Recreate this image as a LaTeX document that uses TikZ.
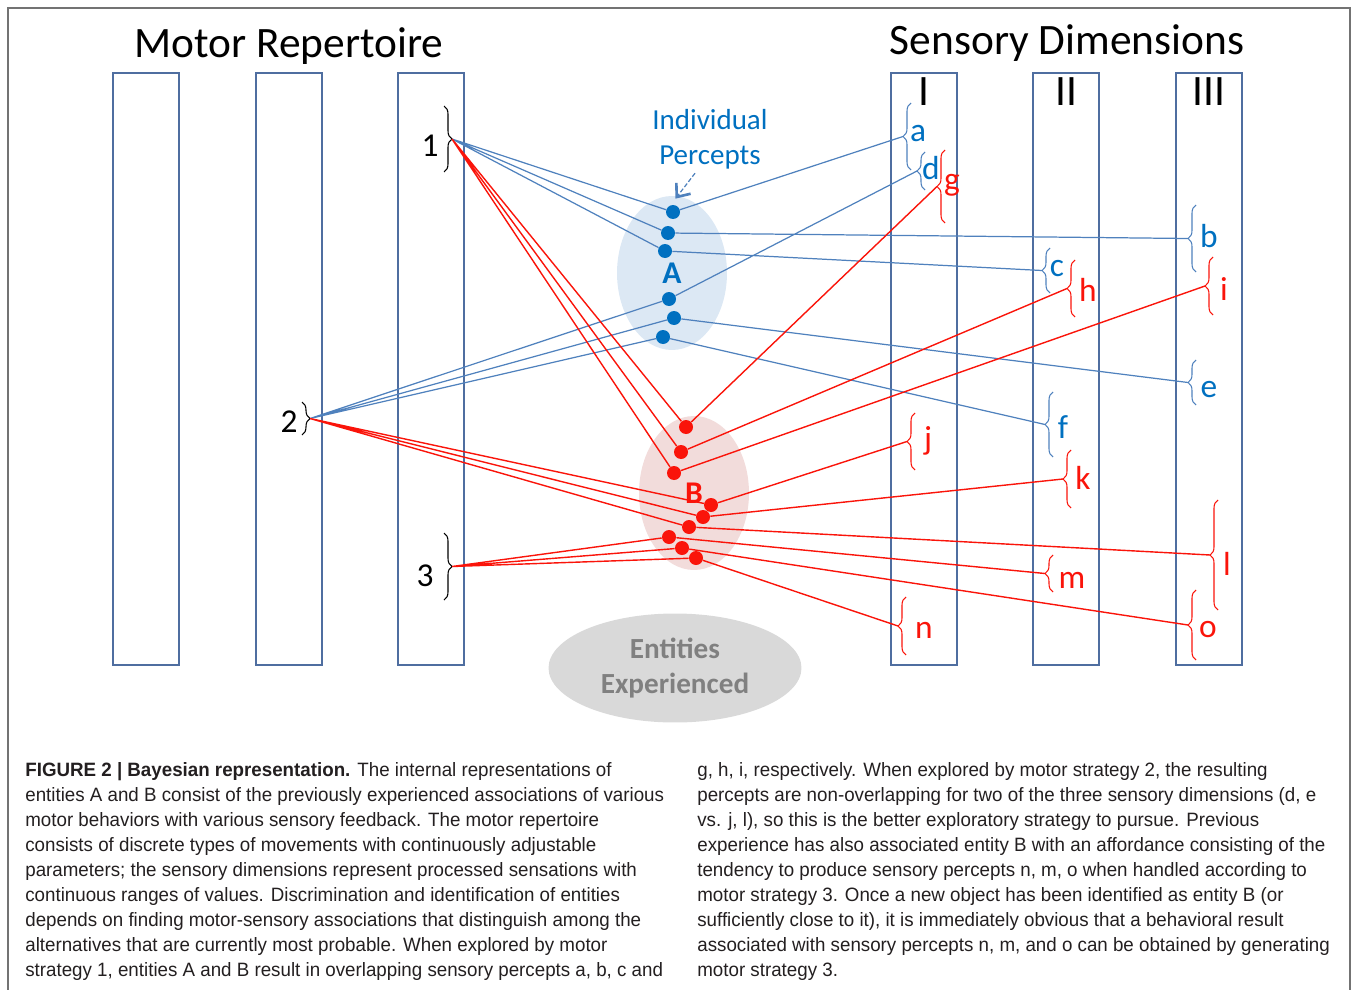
\documentclass[tikz,border=0pt]{standalone}
\usepackage{fontspec}
\setmainfont{Carlito}
\newfontfamily\capfont{Liberation Sans}[FakeStretch=0.97]
\usepackage{tikz}
\usetikzlibrary{positioning, arrows.meta, shapes.geometric, decorations.pathreplacing}
\definecolor{barblue}{RGB}{79,110,160}
\definecolor{lineblue}{RGB}{79,129,189}
\definecolor{dotblue}{RGB}{0,112,192}
\definecolor{linered}{RGB}{250,20,10}
\definecolor{fillA}{RGB}{220,232,244}
\definecolor{fillB}{RGB}{242,220,219}
\definecolor{entgray}{RGB}{217,217,217}
\definecolor{enttext}{RGB}{128,128,128}
\definecolor{captext}{RGB}{35,31,32}
\tikzset{bar/.style={draw=barblue, line width=1pt, minimum width=1.32cm, minimum height=11.84cm, inner sep=0pt},
	headline/.style={inner sep=0pt, font=\fontsize{24.7}{30}\selectfont},
	mnum/.style={inner sep=0pt, font=\fontsize{19}{22}\selectfont},
	plabel/.style={inner sep=0pt, font=\fontsize{19}{22}\selectfont},
	blueline/.style={lineblue, line width=0.7pt},
	redline/.style={linered, line width=0.8pt},
	adot/.style={circle, fill=dotblue, minimum size=0.28cm, inner sep=0pt},
	bdot/.style={circle, fill=linered, minimum size=0.28cm, inner sep=0pt},
	setcloud/.style={ellipse, minimum width=2.2cm, minimum height=3.08cm, inner sep=0pt, font=\bfseries\fontsize{18}{20}\selectfont},
	pbrace/.style={decorate, decoration={brace, amplitude=0.16cm}, line width=0.6pt, #1},
	captext/.style={anchor=base west, inner sep=0pt, align=left, text=captext, font=\capfont\fontsize{11}{14.17}\selectfont}}

\begin{document}
\begin{tikzpicture}[x=0.02cm, y=-0.02cm]
	\useasboundingbox (0,0) rectangle (1355,990);
	\draw[black!55, line width=1pt] (8,990) -- (8,8) -- (1350,8) -- (1350,990);

	% motor and sensory bars
	\node[bar] (m1) at (146,369) {};
	\node[bar] (m2) at (289,369) {};
	\node[bar] (m3) at (431,369) {};
	\node[bar] (s1) at (924,369) {};
	\node[bar] (s2) at (1066,369) {};
	\node[bar] (s3) at (1209,369) {};
	\node[headline] (motor) at (289,46) {Motor Repertoire};
	\node[headline] (sensory) at (1067,43) {Sensory Dimensions};
	\node[headline, below=0.1cm of s1.north] (dim1) {I};
	\node[headline, below=0.1cm of s2.north] (dim2) {II};
	\node[headline, below=0.1cm of s3.north] (dim3) {III};

	% entities
	\node[setcloud, fill=fillA, text=dotblue] (entA) at (672,273) {A};
	\node[setcloud, fill=fillB, text=linered] (entB) at (694,493) {B};
	\node[ellipse, fill=entgray, minimum width=5.06cm, minimum height=2.18cm, inner sep=0pt, align=center, text=enttext,
		font=\bfseries\fontsize{16.6}{19.9}\selectfont] (seen) at (675,668) {Entities\\Experienced};
	\node[align=center, inner sep=0pt, text=dotblue, font=\fontsize{16.5}{19.9}\selectfont] (indiv) at (710,139) {Individual\\Percepts};

	\node[adot] (a1) at (673,212) {};
	\node[adot] (a2) at (668,233) {};
	\node[adot] (a3) at (665,251) {};
	\node[adot] (a4) at (669,299) {};
	\node[adot] (a5) at (674,318) {};
	\node[adot] (a6) at (663,337) {};
	\node[bdot] (b1) at (686,427) {};
	\node[bdot] (b2) at (681,452) {};
	\node[bdot] (b3) at (674,473) {};
	\node[bdot] (b4) at (711,505) {};
	\node[bdot] (b5) at (703,517) {};
	\node[bdot] (b6) at (689,527) {};
	\node[bdot] (b7) at (669,537) {};
	\node[bdot] (b8) at (682,548) {};
	\node[bdot] (b9) at (696,558) {};
	\draw[lineblue, dash pattern=on 2.5pt off 1.2pt, line width=0.7pt, -{Straight Barb[length=2.2mm, width=3.6mm, line width=1.5pt]}]
		([xshift=-0.3cm, yshift=-0.08cm]indiv.south) -- ([xshift=0.05cm, yshift=0.12cm]a1.north);

	% motor strategies
	\node[mnum] (n1) at (430,146) {1};
	\node[mnum] (n2) at (289,422) {2};
	\node[mnum] (n3) at (425,576) {3};
	\draw[pbrace=black] (444,106) -- (444,172) coordinate[midway, xshift=0.16cm] (t1);
	\draw[pbrace=black] (302,402) -- (302,435) coordinate[midway, xshift=0.16cm] (t2);
	\draw[pbrace=black] (444,533) -- (444,600) coordinate[midway, xshift=0.16cm] (t3);

	% sensory percepts
	\draw[pbrace=lineblue] (911,170) -- (911,103) coordinate[midway, xshift=-0.16cm] (pa);
	\draw[pbrace=lineblue] (925,190) -- (925,152) coordinate[midway, xshift=-0.16cm] (pd);
	\draw[pbrace=linered] (945,223) -- (945,150) coordinate[midway, xshift=-0.16cm] (pg);
	\draw[pbrace=lineblue] (1196,272) -- (1196,205) coordinate[midway, xshift=-0.16cm] (pb);
	\draw[pbrace=lineblue] (1050,293) -- (1050,248) coordinate[midway, xshift=-0.16cm] (pc);
	\draw[pbrace=linered] (1075,317) -- (1075,260) coordinate[midway, xshift=-0.16cm] (ph);
	\draw[pbrace=linered] (1213,315) -- (1213,257) coordinate[midway, xshift=-0.16cm] (pi);
	\draw[pbrace=lineblue] (1196,405) -- (1196,360) coordinate[midway, xshift=-0.16cm] (pe);
	\draw[pbrace=lineblue] (1053,457) -- (1053,392) coordinate[midway, xshift=-0.16cm] (pf);
	\draw[pbrace=linered] (915,470) -- (915,413) coordinate[midway, xshift=-0.16cm] (pj);
	\draw[pbrace=linered] (1071,508) -- (1071,450) coordinate[midway, xshift=-0.16cm] (pk);
	\draw[pbrace=linered] (1218,610) -- (1218,500) coordinate[midway, xshift=-0.16cm] (pl);
	\draw[pbrace=linered] (1053,592) -- (1053,555) coordinate[midway, xshift=-0.16cm] (pm);
	\draw[pbrace=linered] (906,655) -- (906,597) coordinate[midway, xshift=-0.16cm] (pn);
	\draw[pbrace=linered] (1196,660) -- (1196,590) coordinate[midway, xshift=-0.16cm] (po);
	\node[plabel, text=dotblue] (la) at (918,134) {a};
	\node[plabel, text=dotblue] (ld) at (931,168) {d};
	\node[plabel, text=linered] (lg) at (952,185) {g};
	\node[plabel, text=dotblue] (lb) at (1209,236) {b};
	\node[plabel, text=dotblue] (lc) at (1057,269) {c};
	\node[plabel, text=linered] (lh) at (1088,290) {h};
	\node[plabel, text=linered] (li) at (1224,289) {i};
	\node[plabel, text=dotblue] (le) at (1209,390) {e};
	\node[plabel, text=dotblue] (lf) at (1063,427) {f};
	\node[plabel, text=linered] (lj) at (928,441) {j};
	\node[plabel, text=linered] (lk) at (1083,478) {k};
	\node[plabel, text=linered] (ll) at (1227,564) {l};
	\node[plabel, text=linered] (lm) at (1072,580) {m};
	\node[plabel, text=linered] (ln) at (924,630) {n};
	\node[plabel, text=linered] (lo) at (1208,630) {o};

	\draw[blueline]
		(t1) -- (a1) (t1) -- (a2) (t1) -- (a3)
		(t2) -- (a4) (t2) -- (a5) (t2) -- (a6)
		(a1) -- (pa) (a2) -- (pb) (a3) -- (pc)
		(a4) -- (pd) (a5) -- (pe) (a6) -- (pf);
	\draw[redline]
		(t1) -- (b1) (t1) -- (b2) (t1) -- (b3)
		(t2) -- (b4) (t2) -- (b5) (t2) -- (b6)
		(t3) -- (b7) (t3) -- (b8) (t3) -- (b9)
		(b1) -- (pg) (b2) -- (ph) (b3) -- (pi)
		(b4) -- (pj) (b5) -- (pk) (b6) -- (pl)
		(b7) -- (pm) (b8) -- (po) (b9) -- (pn);

	% caption (base anchor = last line)
	\node[captext] (capleft) at (25,976) {\textbf{FIGURE 2 | Bayesian representation.} The internal representations of\\
		entities A and B consist of the previously experienced associations of various\\
		motor behaviors with various sensory feedback. The motor repertoire\\
		consists of discrete types of movements with continuously adjustable\\
		parameters; the sensory dimensions represent processed sensations with\\
		continuous ranges of values. Discrimination and identification of entities\\
		depends on finding motor-sensory associations that distinguish among the\\
		alternatives that are currently most probable. When explored by motor\\
		strategy 1, entities A and B result in overlapping sensory percepts a, b, c and};
	\node[captext] (capright) at (697,976) {g, h, i, respectively. When explored by motor strategy 2, the resulting\\
		percepts are non-overlapping for two of the three sensory dimensions (d, e\\
		vs. j, l), so this is the better exploratory strategy to pursue. Previous\\
		experience has also associated entity B with an affordance consisting of the\\
		tendency to produce sensory percepts n, m, o when handled according to\\
		motor strategy 3. Once a new object has been identified as entity B (or\\
		sufficiently close to it), it is immediately obvious that a behavioral result\\
		associated with sensory percepts n, m, and o can be obtained by generating\\
		motor strategy 3.};
\end{tikzpicture}
\end{document}
